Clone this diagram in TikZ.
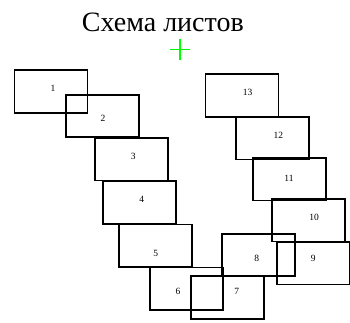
\documentclass[tikz,border=0pt]{standalone}
\usepackage{fontspec}
\setmainfont{Liberation Serif}
\begin{document}
\begin{tikzpicture}[x=1pt,y=-1pt,
  sheet/.style={draw=black,line width=1.7pt,minimum width=73pt,minimum height=42.5pt,inner sep=0pt},
  num/.style={font=\fontsize{9.5}{10}\selectfont,inner sep=0pt}]
\useasboundingbox (0,0) rectangle (350,322);
\node[anchor=base,inner sep=0pt,font=\fontsize{28}{30}\selectfont] (title) at (162.8,31) {Схема листов};
\draw[green,line width=1.5pt] (170,49.3) -- (190,49.3) (180,39) -- (180,59.5);
\foreach \n/\cx/\cy/\lx/\ly in {
  1/51/91.5/53/88,
  2/102.5/116/103/118,
  3/131.7/159.3/133.3/156,
  4/139.2/202.5/141.7/199,
  5/155.5/245.8/155.7/253.3,
  6/186.3/288.8/178/291,
  7/227.2/297.5/236.7/291,
  8/258.5/255/256.7/258,
  9/313.5/263.3/313.3/258,
  10/308.2/220.3/314/217.3,
  11/289.8/179.3/289/178.3,
  12/272.3/138.3/278.3/135,
  13/242/95.5/247.7/92.3}{
  \node[sheet] (r\n) at (\cx,\cy) {};
  \node[num] (l\n) at (\lx,\ly) {\n};
}
\end{tikzpicture}
\end{document}
